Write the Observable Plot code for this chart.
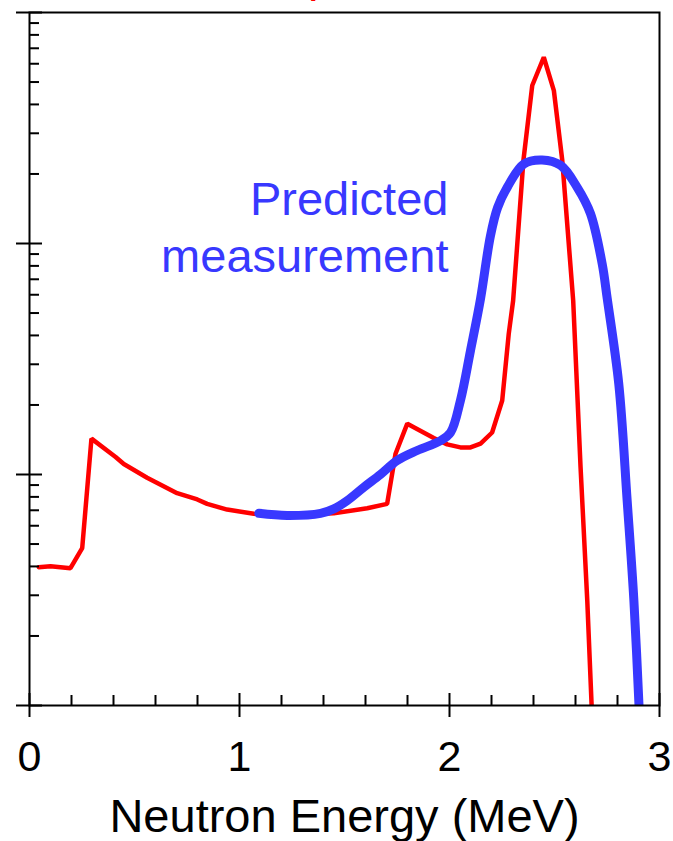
<!DOCTYPE html>
<html>
<head>
<meta charset="utf-8">
<script src="https://cdn.jsdelivr.net/npm/d3@7"></script>
<script src="https://cdn.jsdelivr.net/npm/@observablehq/plot@0.6"></script>
<style>
  html, body { margin: 0; padding: 0; background: #fff; }
</style>
</head>
<body>
<div id="chart"></div>
<script>
// ---- data ----
const redEnergy = [0.044, 0.10, 0.195, 0.251, 0.295, 0.41, 0.449, 0.56, 0.703, 0.799, 0.846, 0.941, 1.068, 1.227, 1.449, 1.608, 1.703, 1.743, 1.799, 1.925, 1.989, 2.052, 2.10, 2.148, 2.203, 2.251, 2.282, 2.303, 2.352, 2.394, 2.449, 2.497, 2.537, 2.589, 2.624, 2.656, 2.68];
const redValue  = [3.97, 4.01, 3.93, 4.80, 14.3, 11.9, 11.1, 9.68, 8.30, 7.80, 7.46, 7.05, 6.76, 6.65, 6.79, 7.14, 7.46, 12.3, 16.6, 14.4, 13.5, 13.1, 13.1, 13.6, 15.2, 20.9, 40.6, 56.6, 229, 483, 640, 459, 229, 56.6, 10.8, 2.85, 0.85];

const blueEnergy = [1.092, 1.227, 1.386, 1.449, 1.513, 1.592, 1.671, 1.751, 1.846, 1.957, 2.005, 2.052, 2.10, 2.148, 2.195, 2.229, 2.275, 2.354, 2.441, 2.529, 2.608, 2.671, 2.727, 2.751, 2.806, 2.846, 2.878, 2.906];
const blueValue  = [6.79, 6.65, 6.79, 7.10, 7.71, 8.81, 10.0, 11.5, 12.7, 14.0, 15.2, 20.9, 34.4, 57.8, 108, 143, 175, 221, 230, 218, 175, 135, 81.7, 57.8, 24.7, 7.71, 2.85, 0.85];

const xMajorTicks = [0, 1, 2, 3];
const xMinorTicks = [0.2, 0.4, 0.6, 0.8, 1.2, 1.4, 1.6, 1.8, 2.2, 2.4, 2.6, 2.8];
const yMajorTicks = [1, 10, 100, 1000];
const yMinorTicks = [2, 3, 4, 5, 6, 7, 8, 9, 20, 30, 40, 50, 60, 70, 80, 90, 200, 300, 400, 500, 600, 700, 800, 900];

const xLabel = "Neutron Energy (MeV)";
const blueLabel = [{x: 1.995, y: 199, text: "Predicted\nmeasurement"}];
const redLabel = "True spectrum";

// ---- tables ----
const red = redEnergy.map((e, i) => ({E: e, v: redValue[i]}));
const blue = blueEnergy.map((e, i) => ({E: e, v: blueValue[i]}));

// ---- layout ----
const W = 673, H = 841;
const mL = 29, mR = 14, mT = 12, mB = 136;
const fw = W - mL - mR, fh = H - mT - mB;
const RED = "#ff0000", BLUE = "#3838ff";

const chart = Plot.plot({
  width: W,
  height: H,
  marginLeft: mL,
  marginRight: mR,
  marginTop: mT,
  marginBottom: mB,
  x: {domain: [0, 3]},
  y: {type: "log", domain: [1, 1000], axis: null},
  style: {fontFamily: "'Liberation Sans', Arial, Helvetica, sans-serif", background: "#fff", color: "#000"},
  marks: [
    Plot.line(red, {x: "E", y: "v", stroke: RED, strokeWidth: 4.5, clip: true, strokeLinejoin: "miter"}),
    Plot.line(blue, {x: "E", y: "v", stroke: BLUE, strokeWidth: 9, curve: "catmull-rom", clip: true, strokeLinecap: "round"}),
    Plot.frame({stroke: "#000", strokeWidth: 2}),
    Plot.tickY(yMajorTicks, {y: d => d, stroke: "#000", strokeWidth: 2, insetRight: fw - 26, dx: -13}),
    Plot.tickY(yMinorTicks, {y: d => d, stroke: "#000", strokeWidth: 2, insetRight: fw - 10}),
    Plot.tickX(xMajorTicks, {x: d => d, stroke: "#000", strokeWidth: 2, insetTop: fh - 24, dy: 12}),
    Plot.tickX(xMinorTicks, {x: d => d, stroke: "#000", strokeWidth: 2, insetTop: fh - 10}),
    Plot.axisX({ticks: xMajorTicks, tickSize: 0, tickPadding: 35, fontSize: 43, tickFormat: d => String(d), label: null}),
    Plot.text([xLabel], {frameAnchor: "bottom", dy: 93, lineAnchor: "top", fontSize: 47, fill: "#000"}),
    Plot.text(blueLabel, {x: "x", y: "y", text: "text", textAnchor: "end", lineAnchor: "top", fontSize: 47, lineHeight: 1.21, fill: BLUE}),
    Plot.text([redLabel], {frameAnchor: "top-left", dx: 147, dy: -37, textAnchor: "start", lineAnchor: "middle", fontSize: 47, fill: RED})
  ]
});
document.getElementById("chart").appendChild(chart);
</script>
</body>
</html>
